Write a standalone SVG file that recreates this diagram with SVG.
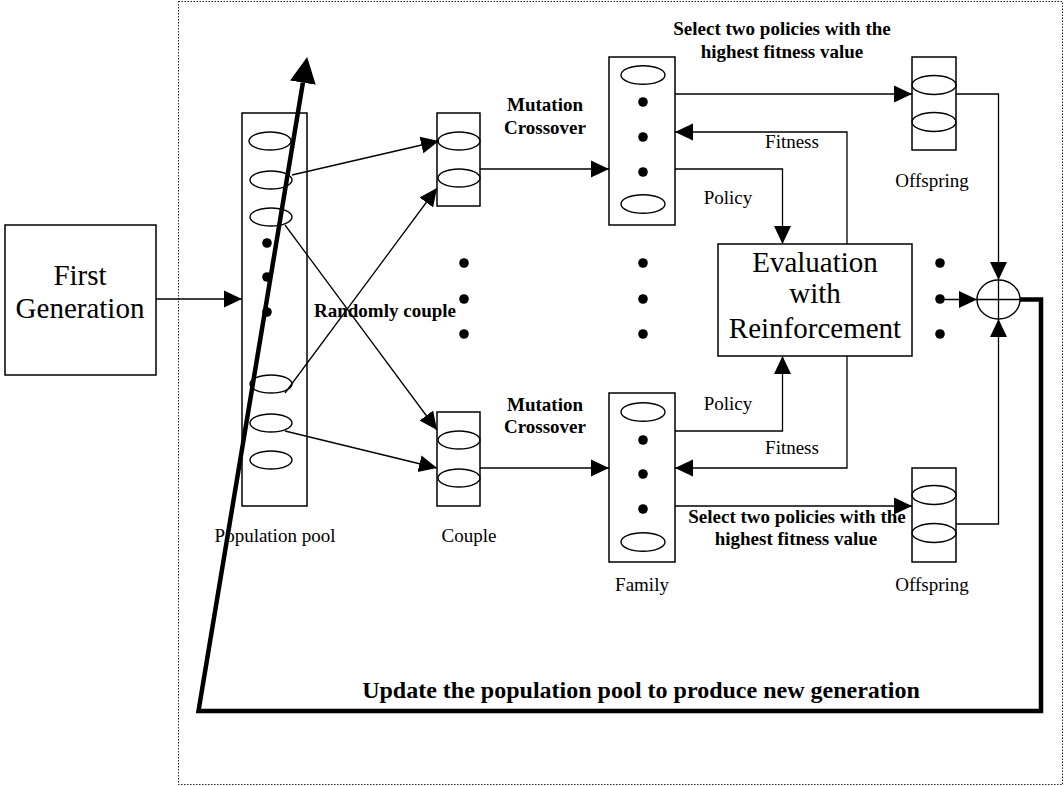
<svg xmlns="http://www.w3.org/2000/svg" width="1064" height="786" viewBox="0 0 1064 786">
<style>
  .box{fill:#fff;stroke:#000;stroke-width:1.5}
  .ell{fill:none;stroke:#000;stroke-width:1.4}
  .dot{fill:#000}
  .ln{fill:none;stroke:#000;stroke-width:1.3}
  .arr{fill:none;stroke:#000;stroke-width:1.3;marker-end:url(#ah)}
  .thick{fill:none;stroke:#000;stroke-width:4.5;stroke-linejoin:miter}
  text{font-family:"Liberation Serif","Times New Roman",serif;fill:#000;text-anchor:middle}
  .big{font-family:"Liberation Serif","DejaVu Serif",serif;font-size:29px;font-weight:normal}
  .lab{font-size:19px}
  .bold{font-size:19px;font-weight:bold}
  .upd{font-size:24px;font-weight:bold}
</style>
<defs>
  <marker id="ah" markerUnits="userSpaceOnUse" markerWidth="18" markerHeight="18" viewBox="0 0 18 18" refX="18" refY="9" orient="auto">
    <path d="M0,0.5 L18,9 L0,17.5 z" fill="#000"/>
  </marker>
  <marker id="bigah" markerUnits="userSpaceOnUse" markerWidth="26" markerHeight="28" viewBox="0 -14 26 28" refX="0" refY="0" orient="auto">
    <path d="M0,-13 L26,0 L0,13 z" fill="#000"/>
  </marker>
</defs>

<rect x="178.5" y="1.5" width="884" height="783" fill="none" stroke="#222" stroke-width="1" stroke-dasharray="1.5,1.5"/>

<g id="first-generation">
  <rect class="box" x="5" y="225" width="151" height="150"/>
  <text class="big" x="80" y="285">First</text>
  <text class="big" x="80" y="318">Generation</text>
</g>

<g id="population-pool">
  <rect class="box" x="242" y="113" width="65" height="393"/>
  <ellipse class="ell" cx="270" cy="141" rx="21" ry="9"/>
  <ellipse class="ell" cx="271" cy="180" rx="21" ry="9"/>
  <ellipse class="ell" cx="271" cy="217" rx="21" ry="9"/>
  <circle class="dot" cx="267" cy="243" r="4.8"/>
  <circle class="dot" cx="267" cy="277" r="4.8"/>
  <circle class="dot" cx="267" cy="312" r="4.8"/>
  <ellipse class="ell" cx="271" cy="384" rx="21" ry="9"/>
  <ellipse class="ell" cx="271" cy="423" rx="21" ry="9"/>
  <ellipse class="ell" cx="271" cy="460" rx="21" ry="9"/>
  <text class="lab" x="275" y="542">Population pool</text>
</g>

<g id="couple-top">
  <rect class="box" x="437" y="113" width="43" height="93"/>
  <ellipse class="ell" cx="459" cy="141" rx="21" ry="9"/>
  <ellipse class="ell" cx="459" cy="178" rx="21" ry="9"/>
</g>

<g id="couple-bottom">
  <rect class="box" x="437" y="412" width="43" height="94"/>
  <ellipse class="ell" cx="459" cy="440" rx="21" ry="9"/>
  <ellipse class="ell" cx="459" cy="478" rx="21" ry="9"/>
  <text class="lab" x="469" y="542">Couple</text>
</g>

<g id="couple-dots">
  <circle class="dot" cx="464" cy="263" r="4.8"/>
  <circle class="dot" cx="464" cy="299" r="4.8"/>
  <circle class="dot" cx="464" cy="334" r="4.8"/>
</g>

<g id="family-top">
  <rect class="box" x="609" y="57" width="66" height="168"/>
  <ellipse class="ell" cx="643" cy="75" rx="22" ry="9.3"/>
  <circle class="dot" cx="643" cy="102" r="4.8"/>
  <circle class="dot" cx="643" cy="137" r="4.8"/>
  <circle class="dot" cx="643" cy="172" r="4.8"/>
  <ellipse class="ell" cx="643" cy="204" rx="22" ry="9.3"/>
</g>

<g id="family-dots">
  <circle class="dot" cx="643" cy="263" r="4.8"/>
  <circle class="dot" cx="643" cy="299" r="4.8"/>
  <circle class="dot" cx="643" cy="334" r="4.8"/>
</g>

<g id="family-bottom">
  <rect class="box" x="609" y="393" width="66" height="169"/>
  <ellipse class="ell" cx="643" cy="412" rx="22" ry="9.3"/>
  <circle class="dot" cx="643" cy="440" r="4.8"/>
  <circle class="dot" cx="643" cy="474" r="4.8"/>
  <circle class="dot" cx="643" cy="509" r="4.8"/>
  <ellipse class="ell" cx="643" cy="542" rx="22" ry="9.3"/>
  <text class="lab" x="642" y="591">Family</text>
</g>

<g id="evaluation">
  <rect class="box" x="718" y="244" width="194" height="112"/>
  <text class="big" x="815" y="272">Evaluation</text>
  <text class="big" x="815" y="303">with</text>
  <text class="big" x="815" y="338">Reinforcement</text>
</g>

<g id="offspring-top">
  <rect class="box" x="912" y="57" width="44" height="93"/>
  <ellipse class="ell" cx="934" cy="85" rx="22" ry="9.5"/>
  <ellipse class="ell" cx="934" cy="122" rx="22" ry="9.5"/>
  <text class="lab" x="932" y="187">Offspring</text>
</g>

<g id="offspring-bottom">
  <rect class="box" x="912" y="468" width="44" height="94"/>
  <ellipse class="ell" cx="934" cy="495" rx="22" ry="9.5"/>
  <ellipse class="ell" cx="934" cy="533" rx="22" ry="9.5"/>
  <text class="lab" x="932" y="591">Offspring</text>
</g>

<g id="offspring-dots">
  <circle class="dot" cx="940" cy="263" r="4.8"/>
  <circle class="dot" cx="940" cy="299" r="4.8"/>
  <circle class="dot" cx="940" cy="334" r="4.8"/>
</g>

<g id="combine">
  <ellipse class="ell" cx="998.5" cy="299.5" rx="21.5" ry="19.5"/>
  <line class="ln" x1="977" y1="299.5" x2="1020" y2="299.5"/>
  <line class="ln" x1="998.5" y1="280" x2="998.5" y2="319"/>
</g>

<g id="connectors">
  <line class="arr" x1="156" y1="299" x2="242" y2="299"/>
  <line class="arr" x1="292" y1="175" x2="439" y2="141"/>
  <line class="arr" x1="285" y1="225" x2="437" y2="430"/>
  <line class="arr" x1="285" y1="393" x2="437" y2="188"/>
  <line class="arr" x1="285" y1="431" x2="437" y2="468"/>
  <line class="arr" x1="480" y1="169" x2="609" y2="169"/>
  <line class="arr" x1="480" y1="468" x2="609" y2="468"/>
  <line class="arr" x1="675" y1="94" x2="912" y2="94"/>
  <polyline class="arr" points="847,244 847,132 675,132"/>
  <polyline class="arr" points="675,169 782.5,169 782.5,244"/>
  <polyline class="arr" points="675,431 782.5,431 782.5,356"/>
  <polyline class="arr" points="847,356 847,468 675,468"/>
  <line class="arr" x1="675" y1="506" x2="912" y2="506"/>
  <polyline class="arr" points="956,94 998.5,94 998.5,280"/>
  <polyline class="arr" points="956,524 998.5,524 998.5,319"/>
  <line class="arr" x1="940" y1="299.5" x2="977" y2="299.5"/>
  <path class="thick" d="M1020,299.5 H1041 V711 H198.5 L302.9,82.7" marker-end="url(#bigah)"/>
</g>

<g id="labels">
  <text class="bold" x="782" y="35">Select two policies with the</text>
  <text class="bold" x="782" y="58">highest fitness value</text>
  <text class="bold" x="545" y="111">Mutation</text>
  <text class="bold" x="545" y="134">Crossover</text>
  <text class="lab" x="792" y="148">Fitness</text>
  <text class="lab" x="728" y="204">Policy</text>
  <text class="bold" x="385" y="317">Randomly couple</text>
  <text class="bold" x="545" y="411">Mutation</text>
  <text class="bold" x="545" y="433">Crossover</text>
  <text class="lab" x="728" y="410">Policy</text>
  <text class="lab" x="792" y="454">Fitness</text>
  <text class="bold" x="797" y="523">Select two policies with the</text>
  <text class="bold" x="796" y="545">highest fitness value</text>
  <text class="upd" x="641" y="698">Update the population pool to produce new generation</text>
</g>
</svg>
